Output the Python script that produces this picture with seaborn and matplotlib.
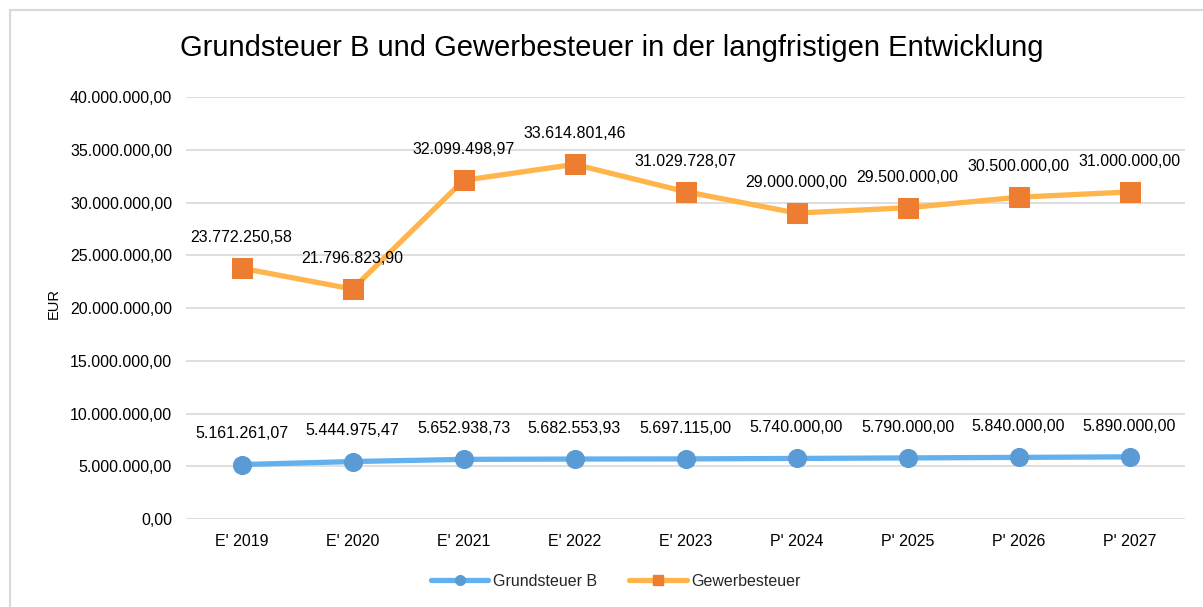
import matplotlib.pyplot as plt
import matplotlib.patches as mpatches
from matplotlib.lines import Line2D
import pandas as pd
import seaborn as sns

categories = ["E' 2019", "E' 2020", "E' 2021", "E' 2022", "E' 2023",
              "P' 2024", "P' 2025", "P' 2026", "P' 2027"]
grundsteuer_b = [5161261.07, 5444975.47, 5652938.73, 5682553.93, 5697115.00,
                 5740000.00, 5790000.00, 5840000.00, 5890000.00]
gewerbesteuer = [23772250.58, 21796823.90, 32099498.97, 33614801.46, 31029728.07,
                 29000000.00, 29500000.00, 30500000.00, 31000000.00]
y_ticks = [0, 5e6, 10e6, 15e6, 20e6, 25e6, 30e6, 35e6, 40e6]


def de_fmt(v):
    s = f"{v:,.2f}"
    return s.replace(",", "X").replace(".", ",").replace("X", ".")


sns.set_theme(style="white")
plt.rcParams["font.family"] = ["Liberation Sans", "DejaVu Sans"]

df = pd.DataFrame({"kat": categories, "gs": grundsteuer_b, "gw": gewerbesteuer})
df["pos"] = range(len(df))

fig = plt.figure(figsize=(12.03, 6.07), dpi=100)
ax = fig.add_axes([186 / 1203, 1 - 519 / 607, (1185 - 186) / 1203, (519 - 97) / 607])

series = [
    ("gs", "Grundsteuer B", "#62B0EE", "#5B9BD5", "o", 13),
    ("gw", "Gewerbesteuer", "#FFB54C", "#ED7D31", "s", 14),
]
handles = []
for col, name, lc, mc, mk, ms in series:
    sns.lineplot(data=df, x="pos", y=col, ax=ax, color=lc, linewidth=3.8,
                 marker=mk, markersize=ms, markerfacecolor=mc,
                 markeredgecolor=mc, sort=False, zorder=3)
    for x, y in zip(df["pos"], df[col]):
        ax.annotate(de_fmt(y), (x, y), xytext=(0, 22), textcoords="offset points",
                    ha="center", va="center", fontsize=11.5, color="#000000")
    handles.append(Line2D([], [], color=lc, linewidth=3.8, marker=mk,
                          markersize=7, markerfacecolor=mc, markeredgecolor=mc,
                          label=name))

ax.set_xlim(-0.5, len(categories) - 0.5)
ax.set_ylim(0, 40e6)
ax.set_xticks(df["pos"])
ax.set_xticklabels(categories)
ax.set_yticks(y_ticks)
ax.set_yticklabels([de_fmt(v) for v in y_ticks])
ax.tick_params(axis="both", length=0, labelsize=11.5, labelcolor="#000000")
ax.tick_params(axis="x", pad=11)
ax.tick_params(axis="y", pad=10)
ax.grid(axis="y", color="#D9D9D9", linewidth=1.2)
ax.set_axisbelow(True)
for sp in ax.spines.values():
    sp.set_visible(False)
ax.set_xlabel("")
ax.set_ylabel("EUR", fontsize=10.5, color="#000000")
ax.yaxis.set_label_coords(61 / 1203, 0.5, transform=fig.transFigure)
ax.yaxis.label.set_position((61 / 1203, 0.5))

fig.text(612 / 1203, 1 - 48 / 607, "Grundsteuer B und Gewerbesteuer in der langfristigen Entwicklung",
         ha="center", va="center", fontsize=21, color="#000000")

fig.legend(handles=handles, loc="center", bbox_to_anchor=(616 / 1203, 1 - 581 / 607),
           ncol=2, frameon=False, fontsize=11.5, handlelength=3.6,
           columnspacing=2.0, handletextpad=0.3)

fig.patches.append(mpatches.Rectangle((10 / 1203, -0.1), 1.2, 1 - 10 / 607 + 0.1,
                                      transform=fig.transFigure, fill=False,
                                      edgecolor="#D9D9D9", linewidth=1.5))

fig.savefig("out.png", dpi=100)
